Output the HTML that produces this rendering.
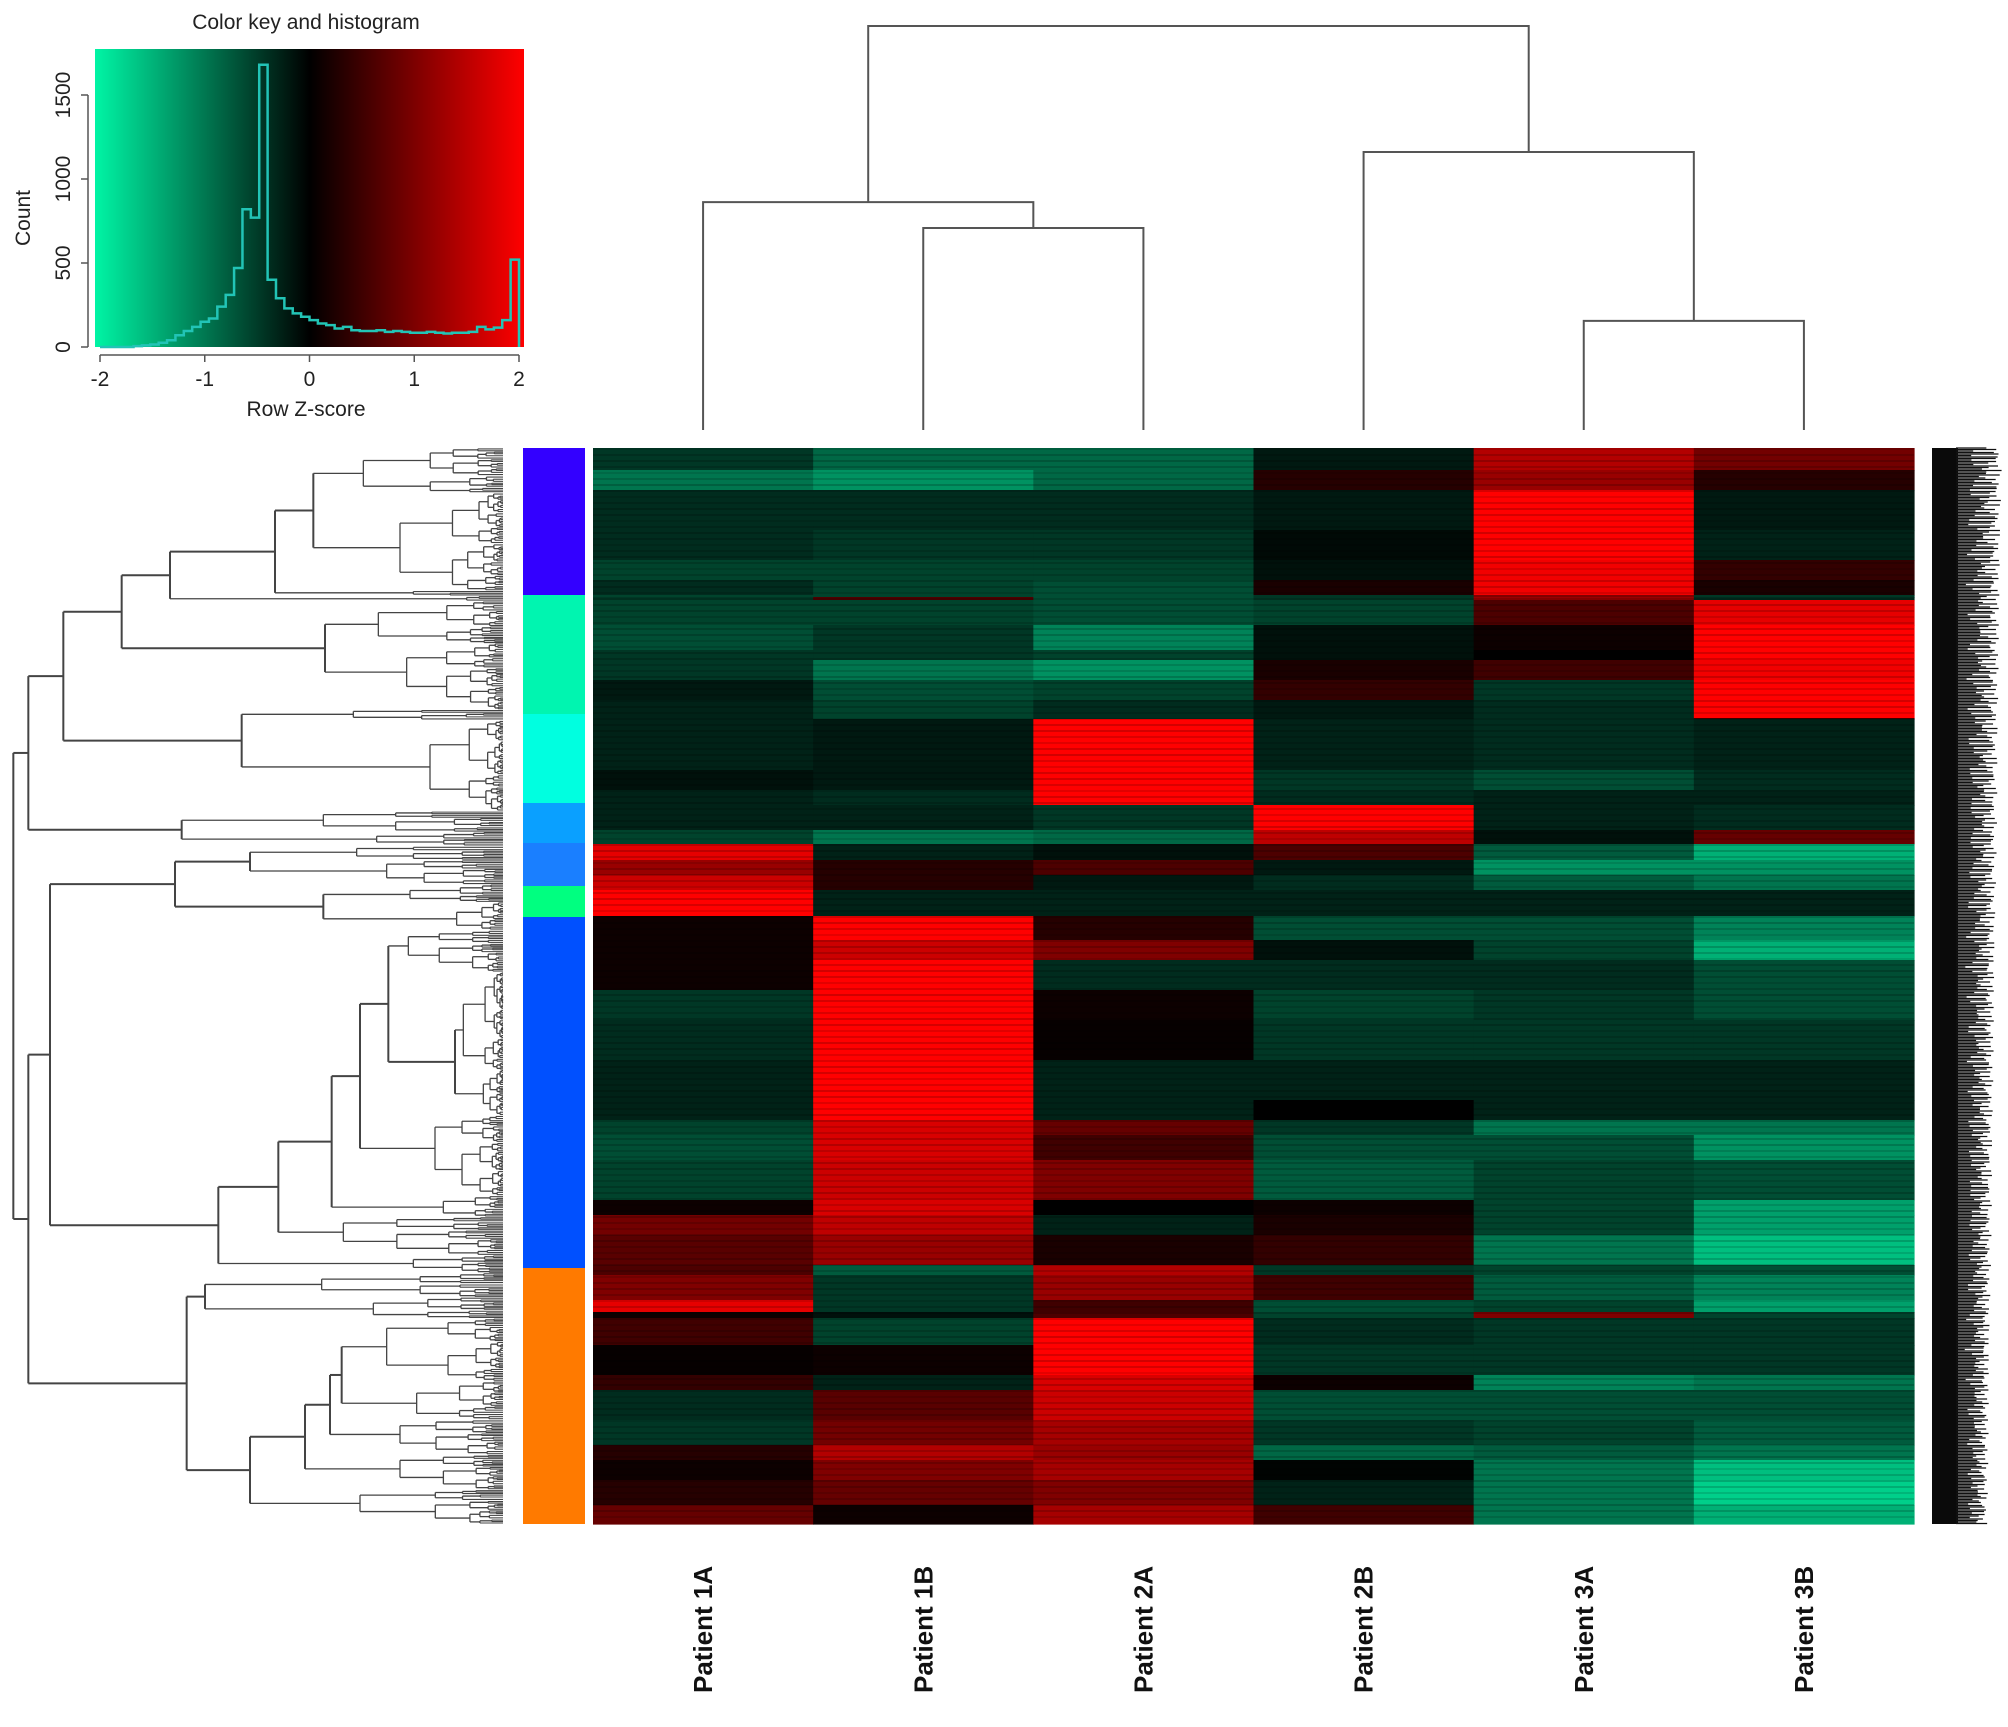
<!DOCTYPE html>
<html><head><meta charset="utf-8"><style>
html,body{margin:0;padding:0;background:#fff;}
svg{display:block;font-family:"Liberation Sans",sans-serif;}
</style></head><body>
<svg id="chart" width="2008" height="1727" viewBox="0 0 2008 1727" xmlns="http://www.w3.org/2000/svg">
<defs>
<linearGradient id="keygrad" x1="0" x2="1" y1="0" y2="0">
<stop offset="0" stop-color="#00f5a5"/><stop offset="0.5" stop-color="#000"/><stop offset="1" stop-color="#ff0000"/>
</linearGradient>
</defs>
<g id="key">
<text x="306" y="29" font-size="21" text-anchor="middle" fill="#222">Color key and histogram</text>
<rect x="95" y="49" width="429" height="298" fill="url(#keygrad)"/>
<text x="30" y="218" font-size="21" text-anchor="middle" fill="#222" transform="rotate(-90 30 218)">Count</text>
<text x="306" y="416" font-size="21" text-anchor="middle" fill="#222">Row Z-score</text>
</g>
<g id="hist"></g>
<g id="axes"></g>
<g id="coldendro"></g>
<g id="rowdendro"></g>
<g id="rowbar"></g>
<g id="heat"></g>
<g id="genes"></g>
<g id="collabels"></g>
</svg>
<script>
const NS="http://www.w3.org/2000/svg";
// ---------- data ----------
const samples=["Patient 1A","Patient 1B","Patient 2A","Patient 2B","Patient 3A","Patient 3B"];
const histCounts=[0,0,0,0,5,10,15,25,40,70,95,120,150,170,240,310,470,820,770,1680,400,290,230,200,180,160,140,130,110,120,100,95,95,100,90,95,90,85,85,90,85,80,85,85,90,120,105,115,160,520];
const histTicksX=[-2,-1,0,1,2];
const histTicksY=[0,500,1000,1500];
// column dendrogram merges: [leftNode,rightNode,height]; leaves 0..5, merges numbered 6+
const colMerges=[[1,2,5.0],[0,6,5.64],[4,5,2.7],[3,8,6.88],[7,9,10]];
// heatmap bands: start row, end row (rows = 0..1076) and z-scores per sample
const bandStart=[0,22,42,82,112,132,147,149,152,177,202,212,232,252,270,271,322,342,357,382,396,412,427,442,468,492,512,542,572,612,652,672,687,712,752,767,787,817,827,852,864,870,897,927,942,972,997,1012,1032,1057];
const bandEnd=[22,42,82,112,132,147,149,152,177,202,212,232,252,270,271,322,342,357,382,396,412,427,442,468,492,512,542,572,612,652,672,687,712,752,767,787,817,827,852,864,870,897,927,942,972,997,1012,1032,1057,1076];
const bandZ=[
[-0.7,-1.1,-1.1,-0.4,1.4,0.9],
[-1.2,-1.4,-1.1,0.3,1.2,0.3],
[-0.6,-0.6,-0.6,-0.4,2,-0.4],
[-0.6,-0.7,-0.7,-0.2,2,-0.5],
[-0.8,-0.8,-0.8,-0.3,1.9,0.4],
[-0.6,-0.8,-0.9,0.2,1.9,0.2],
[-0.8,-0.8,-0.9,-0.7,1.0,-0.7],
[-0.7,0.6,-0.9,-0.7,1.2,-0.6],
[-0.8,-0.8,-0.9,-0.8,0.6,1.8],
[-0.9,-0.7,-1.3,-0.3,0.1,2],
[-0.7,-0.7,-0.8,-0.3,0,2],
[-0.7,-1.2,-1.4,0.2,0.5,1.9],
[-0.4,-0.9,-0.8,0.4,-0.7,2],
[-0.5,-0.8,-0.6,-0.4,-0.6,2],
[-0.5,-0.8,-0.6,-0.4,-0.6,0.5],
[-0.5,-0.4,2,-0.5,-0.6,-0.5],
[-0.3,-0.4,2,-0.7,-0.9,-0.6],
[-0.5,-0.6,2,-0.6,-0.5,-0.5],
[-0.5,-0.5,-0.7,2,-0.5,-0.6],
[-0.8,-1.2,-1.1,1.5,-0.3,0.8],
[1.8,-0.5,-0.3,0.6,-1.0,-1.6],
[1.2,0.3,0.6,-0.4,-1.4,-1.4],
[1.6,0.3,-0.4,-0.6,-1.0,-1.2],
[2,-0.5,-0.5,-0.5,-0.5,-0.5],
[0.1,2,0.3,-0.9,-0.9,-1.3],
[0.1,1.6,1.0,-0.3,-0.8,-1.6],
[0.1,2,-0.6,-0.6,-0.6,-0.9],
[-0.7,2,0.1,-0.8,-0.7,-0.9],
[-0.6,2,0.05,-0.7,-0.7,-0.7],
[-0.5,2,-0.5,-0.5,-0.5,-0.5],
[-0.5,2,-0.5,0,-0.5,-0.5],
[-0.8,1.7,0.8,-0.7,-1.2,-1.2],
[-0.9,1.7,0.5,-0.9,-0.9,-1.4],
[-0.8,1.6,1.0,-1.0,-0.8,-0.9],
[0.1,1.7,0,0.1,-0.8,-1.5],
[0.9,1.5,-0.5,0.2,-0.8,-1.5],
[0.7,1.2,0.2,0.4,-1.2,-1.7],
[0.6,-1.0,1.4,-0.7,-0.8,-0.9],
[1.0,-0.7,1.2,0.5,-1.0,-1.3],
[1.8,-0.7,0.5,-0.9,-0.8,-1.5],
[0.1,-0.3,0.6,-0.8,1.0,-0.8],
[0.5,-0.8,2,-0.6,-0.7,-0.7],
[0.05,0.1,2,-0.7,-0.7,-0.7],
[0.4,-0.5,1.7,0.1,-1.3,-1.2],
[-0.6,0.7,1.6,-0.9,-0.9,-0.9],
[-0.7,0.9,1.3,-0.7,-0.8,-1.0],
[0.3,1.4,1.2,-1.1,-1.0,-1.2],
[0.1,1.0,1.3,-0.1,-1.2,-1.7],
[0.3,0.8,1.0,-0.5,-1.2,-1.8],
[0.8,0.1,1.3,0.5,-1.2,-1.6]
];
// row cluster colour bar segments (row index ranges)
const clusterStart=[0,147,266,355,395,438,469,820];
const clusterEnd=[147,266,355,395,438,469,820,1076];
const clusterColors=["#3300ff","#00f5b0","#00ffe0","#0aa0ff","#1a7fff","#00ff80","#0050ff","#ff7a00"];

// ---------- helpers ----------
function mk(tag,attrs,parent){const e=document.createElementNS(NS,tag);for(const k in attrs)e.setAttribute(k,attrs[k]);parent.appendChild(e);return e;}
function zColor(z){z=Math.max(-2,Math.min(2,z));if(z>=0){return `rgb(${Math.round(255*z/2)},0,0)`;}const t=Math.pow(-z/2,1.4);return `rgb(0,${Math.round(240*t)},${Math.round(160*t)})`;}

// ---------- histogram ----------
const hx=z=>100+(z+2)*104.75;
const hy=c=>347-c*0.168;
const gH=document.getElementById('hist');
let d=`M${hx(-2)},${hy(0)}`;
histCounts.forEach((c,i)=>{const z0=-2+0.08*i,z1=z0+0.08;d+=` L${hx(z0)},${hy(c)} L${hx(z1)},${hy(c)}`;});
d+=` L${hx(2)},${hy(0)}`;
const hp=mk('path',{d:d,fill:'none',stroke:'#22c4b6','stroke-width':2.5},gH);


const gA=document.getElementById('axes');
mk('line',{x1:hx(-2),y1:355,x2:hx(2),y2:355,stroke:'#555','stroke-width':1.5},gA);
histTicksX.forEach(t=>{mk('line',{x1:hx(t),y1:355,x2:hx(t),y2:362,stroke:'#555','stroke-width':1.5},gA);
 const tx=mk('text',{x:hx(t),y:386,'font-size':21,'text-anchor':'middle',fill:'#222'},gA);tx.textContent=t;
 
 });
mk('line',{x1:88,y1:hy(0),x2:88,y2:hy(1500),stroke:'#555','stroke-width':1.5},gA);
histTicksY.forEach(t=>{mk('line',{x1:81,y1:hy(t),x2:88,y2:hy(t),stroke:'#555','stroke-width':1.5},gA);
 const tx=mk('text',{x:70,y:hy(t),'font-size':21,'text-anchor':'middle',fill:'#222',transform:`rotate(-90 70 ${hy(t)})`},gA);tx.textContent=t;
 
 });

// ---------- heatmap ----------
const HX0=593,HX1=1914,HY0=448,HY1=1524,NROW=1076;
const colW=(HX1-HX0)/samples.length;
const colX=i=>HX0+i*colW;
const rowY=r=>HY0+r*(HY1-HY0)/NROW;
const gHeat=document.getElementById('heat');
bandZ.forEach((vals,b)=>{vals.forEach((z,c)=>{
 const r=mk('rect',{x:colX(c),y:rowY(bandStart[b]),width:colW+0.6,height:rowY(bandEnd[b])-rowY(bandStart[b])+0.6,fill:zColor(z)},gHeat);
 
 
});});
// fine stripes texture
for(let r=0;r<NROW-2;r+=6){const a=0.10+0.08*Math.abs(Math.sin(r*1.7));
 mk('rect',{x:HX0,y:rowY(r),width:HX1-HX0,height:2,fill:'#000',opacity:a},gHeat);}

// row colour bar
const gBar=document.getElementById('rowbar');
clusterColors.forEach((col,i)=>{const r=mk('rect',{x:523,y:rowY(clusterStart[i]),width:62,height:rowY(clusterEnd[i])-rowY(clusterStart[i]),fill:col},gBar);
 
 });

// column labels
const gLab=document.getElementById('collabels');
samples.forEach((s,i)=>{const cx=colX(i)+colW/2+9;
 const t=mk('text',{x:cx,y:1693,'font-size':26,'font-weight':'bold',fill:'#111',transform:`rotate(-90 ${cx} 1693)`},gLab);t.textContent=s;
 
 });

// column dendrogram
const gCD=document.getElementById('coldendro');
const cdy=h=>430-h*40.4;
const nodes=samples.map((s,i)=>({x:colX(i)+colW/2,h:0}));
colMerges.forEach(([a,b,h])=>{const A=nodes[a],B=nodes[b];
 const p=mk('path',{d:`M${A.x},${cdy(A.h)} V${cdy(h)} H${B.x} V${cdy(B.h)}`,fill:'none',stroke:'#555','stroke-width':2},gCD);
 
 
 nodes.push({x:(A.x+B.x)/2,h:h});});

// row dendrogram
const gRD=document.getElementById('rowdendro');
const LEAFX=503;
const zy=v=>448+(v-11)/(1549-11)*1076;
function N(x,kids){return {x:x/3,kids:kids};}
function C(x,end){return {x:x/3,end:zy(end),cl:true};}
let prevEnd=448;
function line(x1,y1,x2,y2,w){mk('line',{x1:x1,y1:y1,x2:x2,y2:y2,stroke:'#444','stroke-width':w||1.6},gRD);}
function fan(px,x,top,bot,d){
 if(bot-top<2.6||d>9){const y=(top+bot)/2;line(px,y,LEAFX,y,1.1);return y;}
 const s=top+(bot-top)*(0.5+0.18*Math.sin(top*0.37+d*1.3));
 const f=0.3+0.25*Math.abs(Math.sin(bot*0.11+d));
 const xn=x+(LEAFX-x)*f;
 const y1=fan(x,xn,top,s,d+1),y2=fan(x,xn,s,bot,d+1);
 line(x,y1,x,y2,1.3);const y=(y1+y2)/2;line(px,y,x,y,1.3);return y;}
function draw(node,px){
 if(node.cl){const top=prevEnd,bot=node.end;prevEnd=bot;return fan(px,node.x,top,bot,0);}
 const ys=node.kids.map(k=>draw(k,node.x));
 const y0=Math.min(...ys),y1=Math.max(...ys);
 line(node.x,y0,node.x,y1,2);const y=(ys[0]+ys[ys.length-1])/2;
 if(px!==null)line(px,y,node.x,y,2);return y;}
const tree=N(40,[
 N(85,[
  N(190,[
   N(365,[
    N(510,[
     N(825,[ N(940,[C(1090,75),C(1200,215)]), C(1240,222) ]),
     C(1400,230)
    ]),
    N(975,[C(1135,290),C(1220,385)])
   ]),
   N(725,[C(1060,400),C(1290,530)])
  ]),
  N(545,[C(970,560),C(1130,580)])
 ]),
 N(85,[
  N(150,[
   N(525,[ N(750,[C(1070,600),C(1160,635)]), N(970,[C(1230,660),C(1370,700)]) ]),
   N(655,[
    N(835,[
     N(995,[
      N(1080,[
       N(1165,[ C(1225,760), N(1365,[C(1390,900),C(1450,965)]) ]),
       C(1305,1080)
      ]),
      C(1330,1110)
     ]),
     C(1030,1165)
    ]),
    C(1240,1190)
   ])
  ]),
  N(560,[
   N(615,[C(965,1225),C(1120,1255)]),
   N(750,[
    N(915,[
     N(990,[ N(1025,[C(1160,1345),C(1250,1400)]), C(1200,1450) ]),
     C(1200,1500)
    ]),
    C(1080,1549)
   ])
  ])
 ])
]);
draw(tree,null);

// gene label texture
const gG=document.getElementById('genes');
mk('rect',{x:1932,y:HY0,width:26,height:HY1-HY0,fill:'#0a0a0a'},gG);
for(let y=HY0;y<HY1;y+=1.5){const len=8+32*Math.abs(Math.sin(y*0.731))*(1-0.45*(y-HY0)/(HY1-HY0))+6*Math.abs(Math.sin(y*2.3));
 mk('line',{x1:1956,y1:y,x2:1956+len,y2:y,stroke:'#111','stroke-width':1.3},gG);}
</script>
</body></html>
